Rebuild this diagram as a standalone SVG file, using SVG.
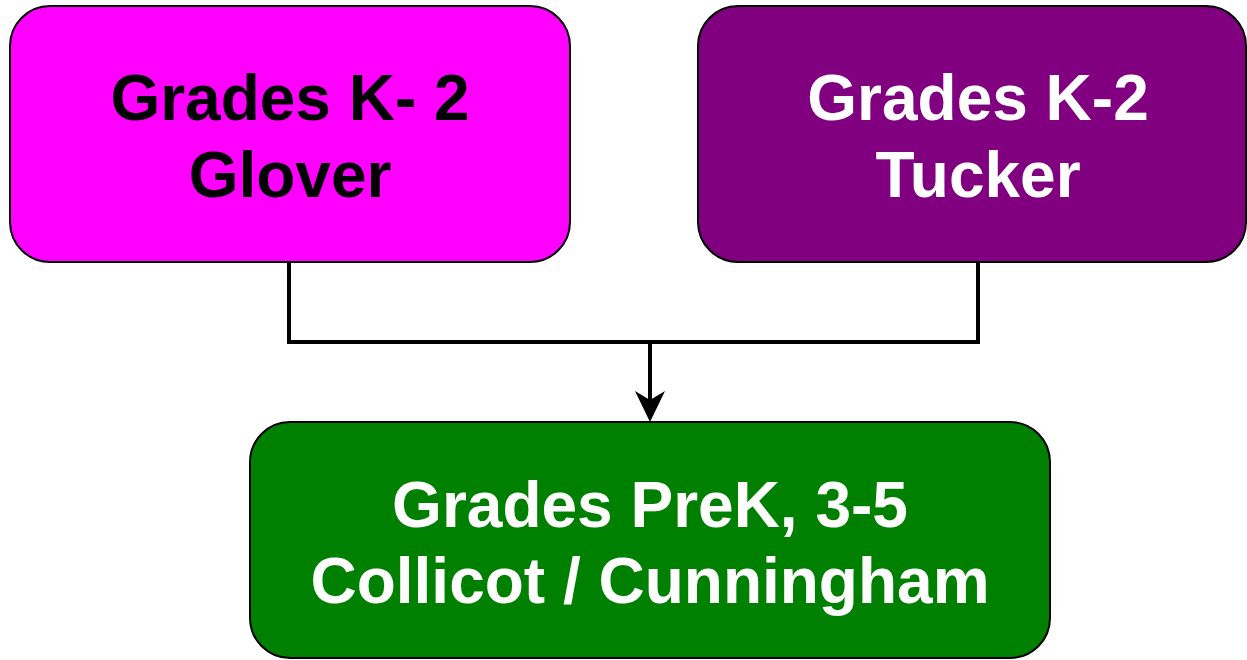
<svg xmlns="http://www.w3.org/2000/svg" width="1247" height="660" viewBox="0 0 1247 660">
<style>
.box{stroke:#000;stroke-width:2}
.t{font-family:"Liberation Sans",Arial,sans-serif;font-weight:bold;font-size:64px;text-anchor:middle}
.conn{fill:none;stroke:#000;stroke-width:4}
</style>
<rect width="1247" height="660" fill="#fff"/>
<g id="connectors">
<path class="conn" d="M289,262 V342 H978 V262"/>
<path class="conn" d="M650,342 V418"/>
<path d="M635,391 L650,400 L665,391 L650,422 Z" fill="#000"/>
</g>
<g id="glover">
<rect class="box" x="10" y="6" width="560" height="256" rx="40" fill="#ff00ff"/>
<text class="t" x="290" y="120" fill="#000">Grades K- 2</text>
<text class="t" x="290" y="197" fill="#000">Glover</text>
</g>
<g id="tucker">
<rect class="box" x="698" y="6" width="548" height="256" rx="40" fill="#800080"/>
<text class="t" x="978" y="120" fill="#fff">Grades K-2</text>
<text class="t" x="978" y="197" fill="#fff">Tucker</text>
</g>
<g id="prek">
<rect class="box" x="250" y="422" width="800" height="236" rx="40" fill="#008000"/>
<text class="t" x="650" y="527" fill="#fff">Grades PreK, 3-5</text>
<text class="t" x="650" y="603" fill="#fff">Collicot / Cunningham</text>
</g>
</svg>
